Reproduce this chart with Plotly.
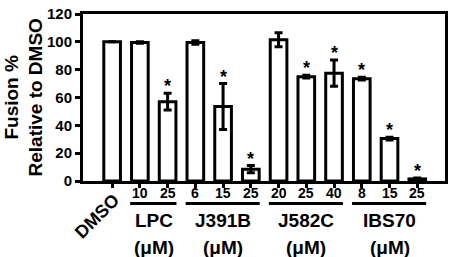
import plotly.graph_objects as go

# ---- data ----
conc_labels = ["DMSO", "10", "25", "6", "15", "25", "20", "25", "40", "8", "15", "25"]
values = [100, 99.5, 57, 99.5, 53.5, 8.5, 101.5, 75, 77.5, 73.5, 30.5, 1.5]
errors = [0, 0.5, 6, 1.2, 16.5, 2.6, 5, 1, 9.5, 1, 1, 0.6]
significant = [False, False, True, False, True, True, False, True, True, True, True, True]
group_names = ["LPC", "J391B", "J582C", "IBS70"]
group_sizes = [2, 3, 3, 3]
unit_label = "(μM)"
y_ticks = [0, 20, 40, 60, 80, 100, 120]
y_title = "Fusion %<br>Relative to DMSO"

FONT = "Arial, Liberation Sans, sans-serif"
x = list(range(len(values)))

fig = go.Figure()
fig.add_trace(go.Bar(
    x=x, y=values, width=0.6,
    marker=dict(color="white", line=dict(color="black", width=3)),
    error_y=dict(type="data", array=errors, visible=True, color="black",
                 thickness=3, width=4),
    showlegend=False,
))

annotations = []
# significance asterisks
for xi, v, e, s in zip(x, values, errors, significant):
    if s:
        annotations.append(dict(x=xi, y=v + e, xref="x", yref="y", text="*",
                                showarrow=False, yanchor="middle", yshift=7,
                                font=dict(family=FONT, size=18, color="black", weight="bold")))

# concentration labels (DMSO rotated)
for xi, lab in zip(x, conc_labels):
    if lab == "DMSO":
        annotations.append(dict(x=xi, y=0, xref="x", yref="paper", text=lab,
                                showarrow=False, textangle=-45, xanchor="center",
                                yanchor="middle", xshift=-15, yshift=-35,
                                font=dict(family=FONT, size=18, color="black", weight="bold")))
    else:
        annotations.append(dict(x=xi, y=0, xref="x", yref="paper", text=lab,
                                showarrow=False, yanchor="middle", yshift=-12,
                                font=dict(family=FONT, size=14, color="black", weight="bold")))

shapes = []
start = 1
for name, size in zip(group_names, group_sizes):
    first, last = start, start + size - 1
    center = (first + last) / 2
    shapes.append(dict(type="line", xref="x", yref="paper", x0=first - 0.35, x1=last + 0.32,
                       y0=-23 / 170, y1=-23 / 170, line=dict(color="black", width=3)))
    annotations.append(dict(x=center, y=0, xref="x", yref="paper", text=name,
                            showarrow=False, yanchor="middle", yshift=-39,
                            font=dict(family=FONT, size=19, color="black", weight="bold")))
    annotations.append(dict(x=center, y=0, xref="x", yref="paper", text=unit_label,
                            showarrow=False, yanchor="middle", yshift=-66,
                            font=dict(family=FONT, size=19, color="black", weight="bold")))
    start = last + 1

# y title
annotations.append(dict(x=0, y=0.5, xref="paper", yref="paper", text=y_title,
                        showarrow=False, textangle=-90, xanchor="center", yanchor="middle",
                        xshift=-60,
                        font=dict(family=FONT, size=19, color="black", weight="bold")))

fig.update_layout(
    width=453, height=257,
    margin=dict(l=83, r=5, t=11, b=76),
    paper_bgcolor="white", plot_bgcolor="white",
    annotations=annotations, shapes=shapes,
    xaxis=dict(range=[-1.05, 12.0], tickvals=x, ticktext=[""] * len(x),
               showline=True, linewidth=3, linecolor="black", mirror=True,
               ticks="outside", ticklen=4, tickwidth=3, tickcolor="black",
               showgrid=False, zeroline=False, fixedrange=True),
    yaxis=dict(range=[0, 120], tickvals=y_ticks,
               showline=True, linewidth=3, linecolor="black", mirror=True,
               ticks="outside", ticklen=5, tickwidth=3, tickcolor="black",
               tickfont=dict(family=FONT, size=15, color="black", weight="bold"),
               showgrid=False, zeroline=False, fixedrange=True),
    bargap=0.4,
)

fig.write_html("out.html", config={"displayModeBar": False},
               post_script="document.body.style.margin='0';document.body.style.overflow='hidden';")
